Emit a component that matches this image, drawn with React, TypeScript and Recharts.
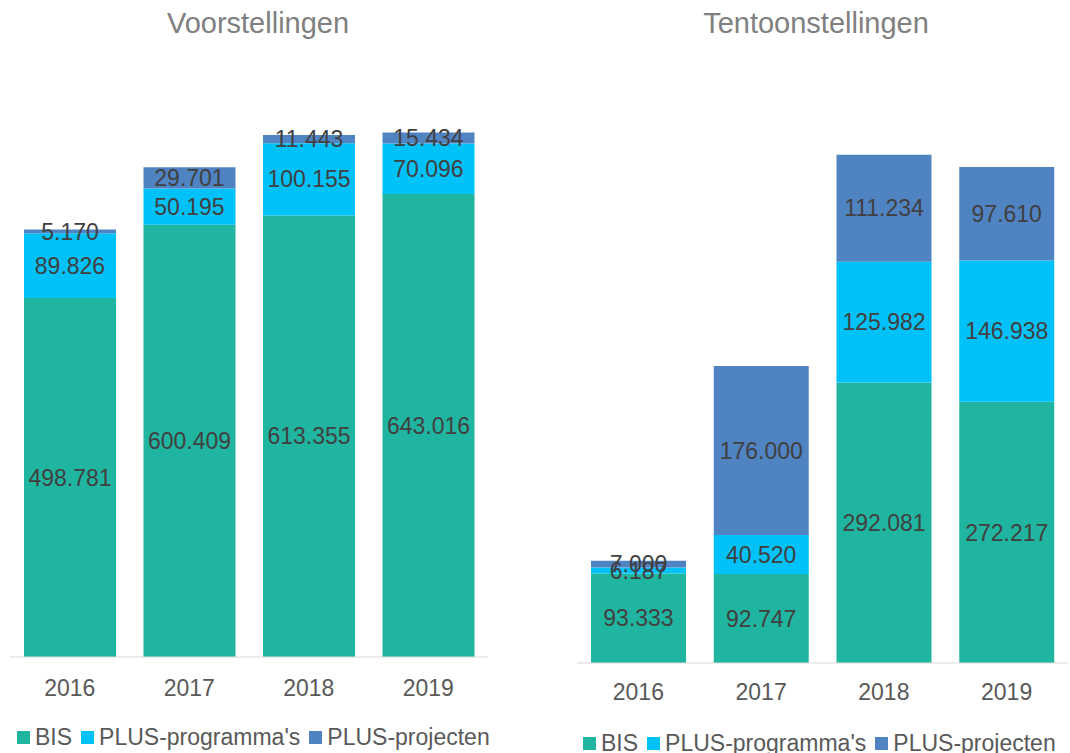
import React from 'react';
import { BarChart, Bar, XAxis, YAxis, LabelList, Legend } from 'recharts';

const years = ['2016', '2017', '2018', '2019'];
const voorBIS = [498781, 600409, 613355, 643016];
const voorProg = [89826, 50195, 100155, 70096];
const voorProj = [5170, 29701, 11443, 15434];
const tentBIS = [93333, 92747, 292081, 272217];
const tentProg = [6187, 40520, 125982, 146938];
const tentProj = [7000, 176000, 111234, 97610];
const seriesNames = ['BIS', "PLUS-programma's", 'PLUS-projecten'];
const seriesColors = ['#20B5A0', '#00C1F8', '#5083C2'];

const FONT = '"Liberation Sans", Arial, sans-serif';

const voorData = years.map((y, i) => ({ year: y, BIS: voorBIS[i], PROG: voorProg[i], PROJ: voorProj[i] }));
const tentData = years.map((y, i) => ({ year: y, BIS: tentBIS[i], PROG: tentProg[i], PROJ: tentProj[i] }));
const keys = ['BIS', 'PROG', 'PROJ'];

const fmt = (v: any) => String(v).replace(/\B(?=(\d{3})+(?!\d))/g, '.');

const legendContent = (props: any) => {
  const payload = props.payload || [];
  return (
    <div style={{ display: 'flex', alignItems: 'center', fontFamily: FONT, fontSize: 23, lineHeight: '23px', color: '#595959', whiteSpace: 'nowrap' }}>
      {payload.map((p: any, i: number) => (
        <div key={i} style={{ display: 'flex', alignItems: 'center', marginRight: 9 }}>
          <span style={{ display: 'inline-block', width: 13, height: 13, background: p.color, marginRight: 5 }} />
          <span>{p.value}</span>
        </div>
      ))}
    </div>
  );
};

function Panel(props: { data: any[]; max: number; margin: any; barSize: number; tickMargin: number; legendPos: any }) {
  return (
    <BarChart width={props.margin.width} height={753} data={props.data} margin={props.margin.m} barSize={props.barSize}>
      <XAxis
        dataKey="year"
        height={30}
        tickLine={false}
        axisLine={{ stroke: '#D9D9D9', strokeWidth: 1 }}
        tick={{ fill: '#595959', fontSize: 23, fontFamily: FONT }}
        tickMargin={props.tickMargin}
      />
      <YAxis hide domain={[0, props.max]} />
      <Legend
        layout="horizontal"
        verticalAlign="middle"
        align="center"
        content={legendContent}
        wrapperStyle={{ ...props.legendPos, width: 'auto', height: 'auto' }}
      />
      {keys.map((k, i) => (
        <Bar key={k} dataKey={k} name={seriesNames[i]} stackId="a" fill={seriesColors[i]} isAnimationActive={false}>
          <LabelList dataKey={k} position="center" formatter={fmt} fill="#404040" fontSize={23} fontFamily={FONT} />
        </Bar>
      ))}
    </BarChart>
  );
}

export default function App() {
  return (
    <div style={{ position: 'absolute', left: 0, top: 0, width: 1070, height: 753, background: '#fff', fontFamily: FONT }}>
      <div style={{ position: 'absolute', left: 0, top: 9, width: 516, textAlign: 'center', fontSize: 29, lineHeight: '29px', color: '#808080' }}>
        Voorstellingen
      </div>
      <div style={{ position: 'absolute', left: 558, top: 9, width: 516, textAlign: 'center', fontSize: 29, lineHeight: '29px', color: '#808080' }}>
        Tentoonstellingen
      </div>
      <div style={{ position: 'absolute', left: 0, top: 0 }}>
        <Panel
          data={voorData}
          max={800000}
          margin={{ width: 540, m: { top: 81, right: 52, bottom: 66, left: 10 } }}
          barSize={92}
          tickMargin={17}
          legendPos={{ top: 726, left: 17 }}
        />
      </div>
      <div style={{ position: 'absolute', left: 540, top: 0 }}>
        <Panel
          data={tentData}
          max={600000}
          margin={{ width: 530, m: { top: 87, right: 2, bottom: 60, left: 37 } }}
          barSize={95}
          tickMargin={15}
          legendPos={{ top: 732, left: 43 }}
        />
      </div>
    </div>
  );
}
